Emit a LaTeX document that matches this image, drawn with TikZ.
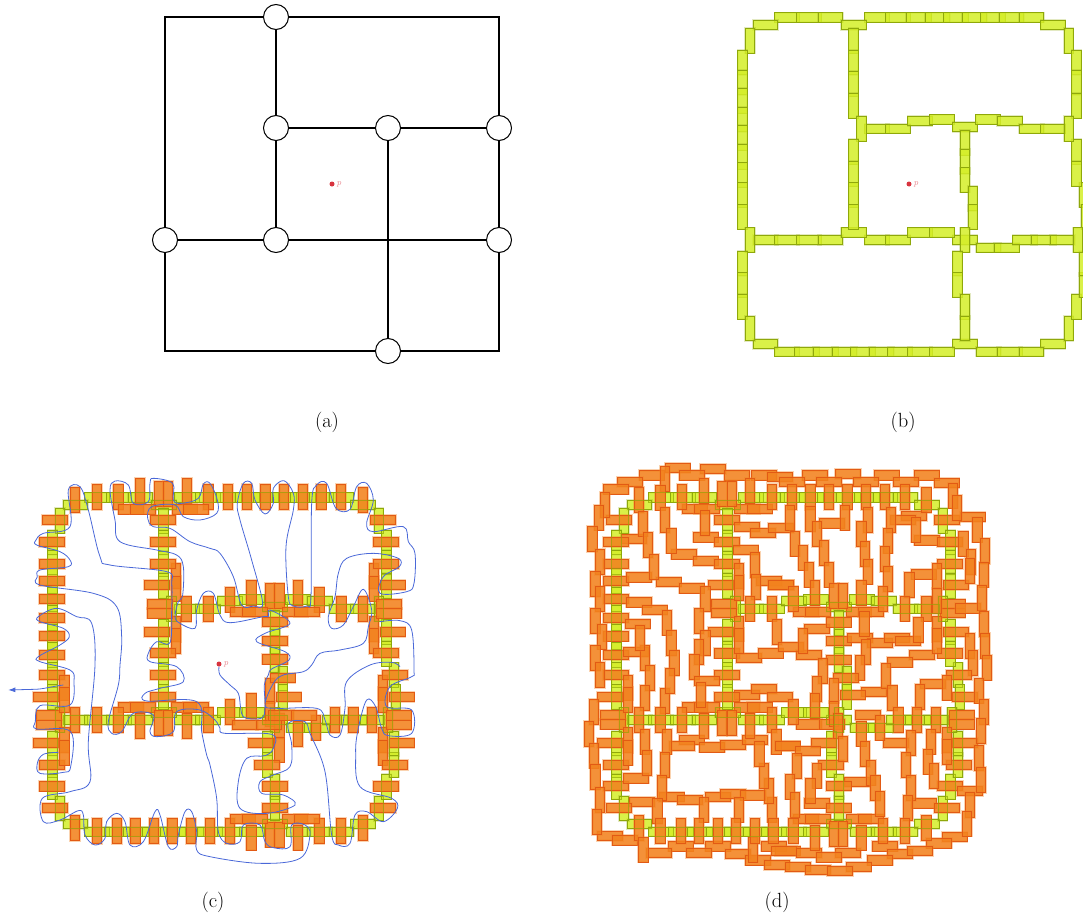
\documentclass[tikz,border=0pt]{standalone}
\usetikzlibrary{arrows.meta}
\definecolor{ylf}{HTML}{D4EE28}
\definecolor{yls}{HTML}{8FA80A}
\definecolor{orf}{HTML}{F2821E}
\definecolor{ors}{HTML}{E25A14}
\definecolor{blu}{HTML}{4A68D8}
\definecolor{rd}{HTML}{D8343F}
\tikzset{
 yfill/.style={preaction={draw=yls,draw opacity=.25,line width=2.2pt},fill=ylf,fill opacity=.85,draw=yls,line width=.9pt},
 yline/.style={draw=yls,draw opacity=.6,line width=.8pt},
 obar/.style={preaction={draw=orf,draw opacity=.35,line width=2.6pt},fill=orf,fill opacity=.88,draw=ors,line width=1pt},
 wire/.style={draw=black,line width=1.25pt},
 hole/.style={circle,draw=black,line width=1pt,fill=white,minimum size=25pt,inner sep=0pt},
 curve/.style={draw=blu,line width=.8pt},
 captext/.style={font=\fontsize{20.5}{24}\selectfont,inner sep=0pt},
 ptdot/.style={circle,fill=rd,minimum size=5pt,inner sep=0pt},
 ptlab/.style={text=rd!60,font=\fontsize{9}{10}\selectfont\itshape,inner sep=0pt},
}
\newcommand{\ohs}[1]{\foreach \a/\b in {#1}{\draw[obar] (\a,\b) rectangle ++(75,28);}}
\newcommand{\ovs}[1]{\foreach \a/\b in {#1}{\draw[obar] (\a,\b) rectangle ++(28,75);}}
\newcommand{\yellowbars}[1]{%
 \foreach \a/\b in {134/38,200/38,264/38,404/38,467/38,529/38,585/38,641/38,696/38,752/38,807/38,867/38,
  69/61,334/61,932/61,404/372,467/372,533/349,599/344,668/367,737/344,802/349,867/372,932/372,
  69/706,134/706,200/706,264/706,404/706,467/706,668/706,334/683,533/683,599/683,738/729,793/729,848/706,904/706,960/706,
  69/1018,668/1018,932/1018,134/1041,194/1041,250/1041,306/1041,362/1041,417/1041,473/1041,533/1041,599/1041,738/1041,802/1041,867/1041}
  {\draw[#1] (\a,\b) rectangle ++(74,28);}
 \foreach \a/\b in {46/85,1002/85,23/150,23/210,23/265,23/321,23/376,23/433,23/488,23/548,23/614,46/683,23/753,23/818,23/883,46/948,
  1002/948,1025/883,1048/818,1048/753,1048/548,1053/614,1030/683,1025/150,1025/210,1025/280,1025/418,1025/484,1002/349,
  356/85,356/150,356/214,356/280,380/349,356/418,356/484,356/548,356/614,
  691/391,691/447,691/503,714/558,714/614,691/683,668/753,668/818,691/883,691/948}
  {\draw[#1] (\a,\b) rectangle ++(28,74);}
}
\begin{document}
\begin{tikzpicture}[x=1pt,y=-1pt]
\useasboundingbox (0,0) rectangle (1083,918);
% ---------- (a)
\coordinate (tl) at (165,17);\coordinate (tr) at (499,17);\coordinate (bl) at (165,351);\coordinate (br) at (499,351);
\node[hole] (n1) at (276,17) {};
\node[hole] (n2) at (276,128) {};
\node[hole] (n3) at (388,128) {};
\node[hole] (n4) at (499,128) {};
\node[hole] (n5) at (165,240) {};
\node[hole] (n6) at (276,240) {};
\node[hole] (n7) at (499,240) {};
\node[hole] (n8) at (388,351) {};
\draw[wire] (n1)--(tl)--(n5)--(bl)--(n8)--(br)--(n7)--(n4)--(tr)--(n1);
\draw[wire] (n1)--(n2)--(n6);
\draw[wire] (n2)--(n3)--(n4);
\draw[wire] (n5)--(n6)--(n7);
\draw[wire] (n3)--(n8);
\node[ptdot] (pa) at (332,184) {};
\node[ptlab] (pal) at (339,184.5) {p};
\node[captext] (ca) at (327,422) {(a)};
% ---------- (b)
\begin{scope}[shift={(730,0)},scale=0.33333]
 \yellowbars{yfill}
\end{scope}
\node[ptdot] (pb) at (909,184) {};
\node[ptlab] (pbl) at (916,184.5) {p};
\node[captext] (cb) at (903,422) {(b)};
% ---------- (c)
\begin{scope}[shift={(40,480)},scale=0.33333]
 \yellowbars{yfill}
\end{scope}
\begin{scope}[shift={(0,470)},scale=0.33333]
 \ovs{211/53,276/44,341/44,406/26,462/35,490/35,546/26,611/44,514/281,514/318,514/439,514/476,545/379,611/379}
 \ohs{355/104,392/104,516/104,551/104,128/136,118/202,118/267,118/318,118/373,118/429,118/484,118/540,
  452/136,452/202,452/267,434/331,443/388,443/416,434/471,452/535}
\end{scope}
\begin{scope}[shift={(210,470)},scale=0.33333]
 \ovs{40/44,96/44,152/44,208/44,264/44,320/44,379/44,444/53,477/281,477/318,477/439,477/476,
  45/351,110/331,166/340,194/340,250/331,314/351,380/379,444/379}
 \ohs{481/136,491/202,491/267,510/331,500/388,500/416,510/471,491/535,60/411,97/411,217/411,254/411,157/442,157/499,157/554}
\end{scope}
\begin{scope}[shift={(0,665)},scale=0.33333]
 \ohs{118/16,100/81,109/137,109/165,100/220,118/285,118/350,128/415,355/113,392/113,515/113,551/113,452/16,452/81}
 \ovs{179/30,179/67,179/188,179/225,211/127,276/127,341/127,406/146,462/137,490/137,546/146,611/127,
  211/451,276/461,336/461,392/461,448/461,503/461,559/461,615/461}
\end{scope}
\begin{scope}[shift={(210,665)},scale=0.33333]
 \ovs{45/104,110/85,166/39,166/110,194/146,194/216,249/170,304/150,360/127,416/127,471/127,505/30,505/67,505/188,505/225,
  45/461,110/480,166/471,194/471,250/480,314/461,379/461,444/451}
 \ohs{68/165,140/165,175/137,245/137,115/220,133/285,157/350,157/415,180/25,198/81,518/16,537/81,528/137,528/165,537/220,518/285,491/350,481/415,
  60/447,97/447,217/447,254/447}
\end{scope}
\begin{scope}[shift={(40,480)},scale=0.33333]
 \yellowbars{yline}
\end{scope}
\begin{scope}[shift={(0,470)},scale=0.33333]
 \draw[curve] plot[smooth,tension=.6] coordinates {(657,590)(660,615)(690,645)(715,670)(722,715)(730,740)(760,747)(790,740)(795,700)(793,645)(805,615)(815,597)(867,570)(855,545)(770,515)(795,490)(870,460)(810,420)(805,440)(790,440)(690,458)(660,435)(640,370)(610,370)(590,420)(585,475)(540,460)(525,440)(535,395)(548,375)(550,290)(530,255)(470,240)(360,215)(345,150)(330,60)(345,33)(385,45)(400,100)(445,95)(450,40)(460,25)(518,40)(520,90)(545,100)(595,85)(610,42)(630,40)(652,90)(650,130)(600,150)(550,140)(525,105)(455,110)(443,145)(460,170)(510,175)(570,215)(630,235)(660,250)(700,320)(725,405)(760,408)(788,400)(755,270)(720,150)(712,100)(730,40)(755,40)(765,90)(795,132)(820,100)(820,55)(852,32)(880,70)(880,120)(858,230)(865,380)(880,408)(920,408)(933,380)(935,100)(950,45)(980,40)(1008,115)(1050,118)(1070,50)(1100,40)(1120,90)(1100,160)(1120,185)(1210,170)(1225,215)(1245,250)(1242,340)(1220,365)(1140,370)(1150,320)(1198,290)(1195,265)(1120,250)(1040,265)(1015,310)(1005,380)(985,440)(995,475)(1030,465)(1060,410)(1090,358)(1115,420)(1105,470)(1090,520)(1020,540)(960,550)(935,585)(910,605)(850,615)(820,640)(795,705)(830,715)(950,715)(975,750)(990,795)(1020,795)(1035,715)(1040,635)(1110,585)(1175,577)(1200,590)};
 \draw[curve] plot[smooth,tension=.6] coordinates {(1140,455)(1200,452)(1235,480)(1242,600)(1235,620)(1170,650)(1160,710)(1235,720)(1235,790)(1165,797)(1145,775)(1127,710)(1100,690)(1075,775)(1067,850)(1080,950)(1175,985)(1192,1015)(1150,1055)(1100,1025)(1065,1035)(1050,1120)(1015,1125)(995,1095)(975,905)(930,790)(915,755)(865,760)(875,825)(870,890)(820,915)(780,935)(785,970)(850,975)(885,1005)(800,1030)(720,1015)(715,935)(740,865)(795,857)(820,835)(815,793)(675,790)(660,775)(645,750)(600,720)(530,725)(520,785)(470,800)(450,785)(460,735)(400,730)(365,785)(335,790)(325,755)(355,645)(360,585)(365,500)(350,410)(280,370)(120,345)(112,320)(120,300)(205,290)(210,270)(180,245)(110,225)(108,210)(130,190)(210,170)(205,60)(240,50)(265,120)(300,260)(330,285)(500,305)(515,340)(515,420)(510,518)(470,515)(445,550)(450,575)(530,590)(550,635)(480,655)(435,670)(440,693)(590,695)(605,785)(620,855)(630,885)(650,985)(655,1085)(680,1120)(720,1115)(730,1065)(780,1065)(795,1115)(820,1133)(870,1130)(875,1065)(915,1065)(930,1095)(900,1165)(780,1180)(630,1160)(590,1140)(590,1085)(575,1025)(555,1025)(535,1095)(530,1130)(505,1130)(480,1035)(465,1025)(430,1115)(390,1125)(375,1055)(350,1030)(320,1055)(315,1105)(285,1125)(255,1095)(250,1035)(235,1022)(180,1050)(130,1055)(127,985)(210,965)(270,935)(265,815)(285,585)(275,460)(230,440)(170,415)(115,440)(120,455)(190,475)(208,500)(180,525)(115,560)(120,575)(210,600)(222,635)(210,705)(120,707)(106,755)(110,777)(212,785)(212,890)(190,907)(120,910)(112,880)(130,853)(175,847)};
 \coordinate (aend) at (25,660);
 \coordinate (astart) at (190,645);
 \draw[curve,-{Latex[length=7pt,width=5pt]}] (astart) .. controls (150,650) and (130,658) .. (100,658) -- (aend);
\end{scope}
\node[ptdot] (pc) at (219,664) {};
\node[ptlab] (pcl) at (226,664.5) {p};
\node[captext] (cc) at (213,902) {(c)};
% ---------- (d)
\begin{scope}[shift={(604,480)},scale=0.33333]
 \yellowbars{yfill}
\end{scope}
\begin{scope}[shift={(575,455)},scale=0.33333]
 \ohs{270/24,377/28,192/47,313/47,447/47,530/47,127/66,85/89,577/52,95/181,140/238,85/247,354/233,418/181,418/247,479/201,526/219,580/205,474/270,289/284,354/303,418/312,85/312,85/363,155/353,243/367,312/386,400/376,545/363,581/376,85/418,155/428,201/451,409/432,409/460,85/474,150/493,400/516,85/530,85/586,145/576,418/581,484/595,549/581,321/148,358/148,478/148,516/148}
 \ovs{76/112,57/150,38/215,61/284,47/349,61/395,47/460,66/507,47/572,178/98,256/33,242/90,190/168,205/233,223/298,256/158,275/219,307/89,372/70,428/80,456/80,511/70,577/89,376/167,478/325,478/362,525/293,529/358,511/423,577/423,591/493,377/395,358/460,377/526,358/553,344/599,261/465,275/526,284/586,196/572,181/512,478/483,478/520}
\end{scope}
\begin{scope}[shift={(785,455)},scale=0.33333]
 \ohs{53/47,151/42,267/47,387/47,-16/66,95/66,206/66,326/66,447/70,525/172,349/168,317/181,448/181,104/191,388/242,457/247,457/312,378/344,476/376,-50/376,465/432,465/460,512/446,25/456,62/456,183/456,221/456,58/507,123/488,123/544,187/535,248/549,298/535,331/544,476/516,457/581,373/586,34/586,-20/562,123/600,308/608}
 \ovs{7/89,62/89,118/89,173/89,229/89,285/89,345/89,410/98,490/84,502/121,0/150,62/154,165/150,234/158,304/158,378/186,81/200,215/200,563/186,521/228,586/251,544/283,540/311,582/321,15/228,39/270,57/321,103/256,118/321,225/260,234/312,295/219,285/274,294/334,76/376,132/386,160/386,215/376,280/395,11/395,359/353,442/325,442/400,345/423,410/423,577/391,582/470,586/535,224/470,386/488,442/484,442/520,540/535,40/520,229/553,211/600,549/586,591/600}
\end{scope}
\begin{scope}[shift={(575,665)},scale=0.33333]
 \ohs{85/16,66/81,418/16,358/34,478/76,530/58,577/81,418/81,322/113,358/113,478/113,516/113,76/136,76/164,66/220,85/285,85/349,145/326,163/396,94/414,252/382,307/391,391/382,437/373,497/377,312/210,284/229,373/233,437/225,503/211,600/229,67/498,112/512,279/530,391/530,558/530,600/544,214/549,335/549,451/553,511/572,568/586}
 \ovs{145/30,145/67,61/-8,210/2,196/62,256/71,270/11,363/53,42/104,28/169,43/234,47/299,61/368,52/433,178/127,178/452,242/127,307/127,372/145,427/136,456/136,511/145,577/127,145/187,145/225,196/192,201/257,261/192,256/262,247/331,233/401,372/396,478/396,577/396,567/340,553/295,539/229,590/192,191/516,520/516,242/460,303/460,358/460,414/460,469/460,525/460,581/460}
\end{scope}
\begin{scope}[shift={(785,665)},scale=0.33333]
 \ohs{145/25,484/16,229/67,406/43,165/76,503/81,492/136,492/164,34/164,104/164,212/136,295/220,502/220,80/220,-30/229,30/243,100/285,484/285,178/336,123/349,457/349,517/363,58/401,123/415,378/401,448/415,25/447,62/447,183/447,220/447,471/502,424/521,262/530,-40/544,34/549,151/549,94/563,308/553,367/544,248/572,2/591,62/600,183/591,127/604}
 \ovs{100/-20,81/34,76/85,11/104,132/39,132/110,289/-4,308/62,391/58,471/30,568/39,582/104,573/160,568/242,573/308,540/382,531/438,326/127,382/127,438/127,271/150,215/168,145/146,160/215,225/229,243/285,257/331,271/378,364/196,424/192,415/252,433/295,349/262,364/331,354/391,471/187,471/224,21/266,81/294,62/340,0/327,16/382,11/461,76/480,132/470,160/470,215/480,280/461,345/461,410/452}
\end{scope}
\begin{scope}[shift={(604,480)},scale=0.33333]
 \yellowbars{yline}
\end{scope}
\node[captext] (cd) at (777,902) {(d)};
\end{tikzpicture}
\end{document}
